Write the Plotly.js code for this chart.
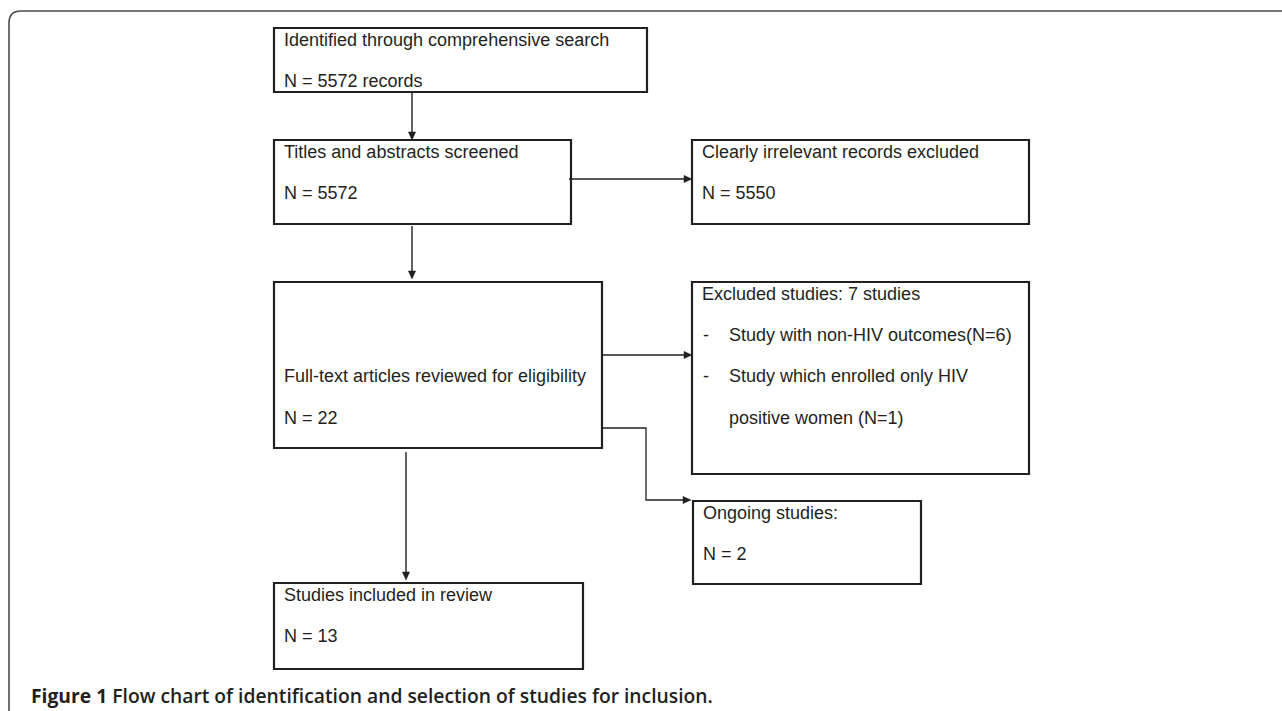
<!DOCTYPE html>
<html>
<head>
<meta charset="utf-8">
<script src="https://cdn.plot.ly/plotly-3.0.1.min.js"></script>
<style>
  html, body { margin: 0; padding: 0; background: #ffffff; }
  #chart { width: 1282px; height: 711px; }
</style>
</head>
<body>
<div id="chart"></div>
<script>
// ---------------- DATA ----------------
const stageTitles = [
  "Identified through comprehensive search",
  "Titles and abstracts screened",
  "Full-text articles reviewed for eligibility",
  "Studies included in review"
];
const stageCounts = [5572, 5572, 22, 13];
const stageUnits = [" records", "", "", ""];

const sideTitles = [
  "Clearly irrelevant records excluded",
  "Excluded studies: 7 studies",
  "Ongoing studies:"
];
const sideCounts = [5550, null, 2];

const exclusionReasons = [
  ["Study with non-HIV outcomes(N=6)"],
  ["Study which enrolled only HIV", "positive women (N=1)"]
];

const captionLabel = "Figure 1";
const captionText = "Flow chart of identification and selection of studies for inclusion.";

// ---------------- LAYOUT GEOMETRY (pixels in a 1282 x 711 frame) ----------------
const W = 1282, H = 711;
const INK = "#231f20";
// [x0, x1, y0, y1]
const stageBoxes = [[274, 647, 28, 92], [274, 571, 140, 224], [274, 602, 282, 448], [274, 583, 583, 669]];
const stageFirstLine = [0, 0, 2, 0];
const sideBoxes = [[692, 1029, 140, 224], [692, 1029, 282, 474], [693, 921, 501, 584]];
const TEXT_PAD = 9, FIRST_BASE = 18, LINE_PITCH = 41.3, FS = 18;

const shapes = [];
const annotations = [];

function rectShape(b, w) {
  shapes.push({type: "rect", xref: "x", yref: "y", x0: b[0], x1: b[1], y0: b[2], y1: b[3],
    line: {color: INK, width: w}, fillcolor: "rgba(0,0,0,0)"});
}
function addText(x, baseY, txt, opts) {
  annotations.push(Object.assign({
    xref: "x", yref: "y", x: x, y: baseY - 6.2, text: txt, showarrow: false,
    xanchor: "left", yanchor: "middle", borderpad: 0,
    font: {family: "Liberation Sans, Arial, sans-serif", size: FS, color: INK}
  }, opts || {}));
}
function lineY(box, i) { return box[2] + FIRST_BASE + LINE_PITCH * i; }

// stage boxes
stageBoxes.forEach((b, k) => {
  rectShape(b, 2.2);
  const li = stageFirstLine[k];
  addText(b[0] + TEXT_PAD, lineY(b, li), stageTitles[k]);
  addText(b[0] + TEXT_PAD, lineY(b, li + 1), "N = " + stageCounts[k] + stageUnits[k]);
});

// side boxes
sideBoxes.forEach((b, k) => {
  rectShape(b, 2.2);
  addText(b[0] + TEXT_PAD, lineY(b, 0), sideTitles[k]);
  if (sideCounts[k] !== null) addText(b[0] + TEXT_PAD, lineY(b, 1), "N = " + sideCounts[k]);
});
// exclusion reasons in the second side box
(function () {
  const b = sideBoxes[1];
  let li = 1;
  exclusionReasons.forEach(lines => {
    addText(b[0] + 10, lineY(b, li), "-");
    lines.forEach(t => { addText(b[0] + 36, lineY(b, li), t); li++; });
  });
})();

// connectors
function polyline(pts, w) {
  let d = "M " + pts.map(p => p[0] + "," + p[1]).join(" L ");
  shapes.push({type: "path", xref: "x", yref: "y", path: d, line: {color: INK, width: w}});
}
function arrowHead(tip, dir) {
  const L = 8, hw = 3.6;
  let p;
  if (dir === "down") p = [[tip[0], tip[1]], [tip[0] - hw, tip[1] - L], [tip[0] + hw, tip[1] - L]];
  else p = [[tip[0], tip[1]], [tip[0] - L, tip[1] - hw], [tip[0] - L, tip[1] + hw]];
  shapes.push({type: "path", xref: "x", yref: "y",
    path: "M " + p.map(q => q[0] + "," + q[1]).join(" L ") + " Z",
    fillcolor: INK, line: {color: INK, width: 0.5}});
}
function down(from, to, x, g0, g1) {
  const tip = [x, to[2] - g1];
  polyline([[x, from[3] + g0], [tip[0], tip[1] - 4]], 1.4);
  arrowHead(tip, "down");
}
function right(from, to, y, g0) {
  const tip = [to[0], y];
  polyline([[from[1] - g0, y], [tip[0] - 4, y]], 1.4);
  arrowHead(tip, "right");
}
function elbow(from, to, y, xm) {
  const yEnd = to[2] - 1;
  const tip = [to[0] - 2, yEnd];
  polyline([[from[1] - 1, y], [xm, y], [xm, yEnd], [tip[0] - 4, yEnd]], 1.3);
  arrowHead(tip, "right");
}
down(stageBoxes[0], stageBoxes[1], 412, 0, 0);
right(stageBoxes[1], sideBoxes[0], 179, 2);
down(stageBoxes[1], stageBoxes[2], 412, 2, 3);
right(stageBoxes[2], sideBoxes[1], 355, 1);
elbow(stageBoxes[2], sideBoxes[2], 428, 646);
down(stageBoxes[2], stageBoxes[3], 406, 4, 3);

// outer frame with rounded top-left corner
shapes.push({type: "path", xref: "x", yref: "y",
  path: "M 9,712 L 9,23 Q 9,11 21,11 L 1283,11",
  line: {color: "#4a4a4a", width: 1.6}});

// caption
annotations.push({
  xref: "x", yref: "y", x: 30, y: 695, xanchor: "left", yanchor: "middle", showarrow: false,
  borderpad: 0,
  text: "<b>" + captionLabel + "</b> <span style=\"font-weight:600\">" + captionText + "</span>",
  font: {family: "Open Sans, sans-serif", size: 19.3, color: INK}
});

const layout = {
  width: W, height: H,
  margin: {l: 0, r: 0, t: 0, b: 0, pad: 0},
  paper_bgcolor: "#ffffff", plot_bgcolor: "#ffffff",
  xaxis: {range: [0, W], visible: false, fixedrange: true},
  yaxis: {range: [H, 0], visible: false, fixedrange: true},
  showlegend: false,
  shapes: shapes,
  annotations: annotations
};
Plotly.newPlot("chart", [{x: [], y: [], type: "scatter", mode: "markers", hoverinfo: "skip"}], layout,
  {staticPlot: true, displayModeBar: false});
</script>
</body>
</html>
